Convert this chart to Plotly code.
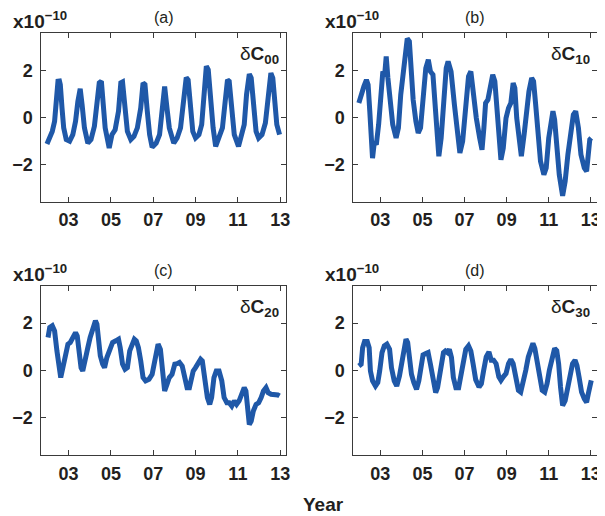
import plotly.graph_objects as go

# The page body adds an 8px margin, so the figure is sized to fit the window
OFF = 8
W, H = 605 - OFF, 516 - OFF

# ---------------- data ----------------
years_a = [2001.98, 2002.11, 2002.23, 2002.34, 2002.42, 2002.5, 2002.57, 2002.61, 2002.69, 2002.77,
           2002.89, 2003.05, 2003.2, 2003.33, 2003.44, 2003.55, 2003.64, 2003.75, 2003.91, 2004.06,
           2004.22, 2004.33, 2004.45, 2004.55, 2004.64, 2004.73, 2004.92, 2005.05, 2005.2, 2005.36,
           2005.47, 2005.55, 2005.67, 2005.78, 2005.94, 2006.09, 2006.25, 2006.41, 2006.52, 2006.61,
           2006.72, 2006.83, 2006.95, 2007.14, 2007.3, 2007.41, 2007.54, 2007.65, 2007.76, 2007.97,
           2008.13, 2008.29, 2008.44, 2008.56, 2008.65, 2008.76, 2008.87, 2009.0, 2009.16, 2009.29,
           2009.4, 2009.51, 2009.6, 2009.71, 2009.83, 2009.95, 2010.11, 2010.27, 2010.4, 2010.51,
           2010.59, 2010.71, 2010.83, 2011.03, 2011.19, 2011.3, 2011.41, 2011.54, 2011.63, 2011.75,
           2011.86, 2011.98, 2012.14, 2012.3, 2012.43, 2012.56, 2012.65, 2012.75, 2012.84, 2012.97]
dC00 = [-1.14, -0.88, -0.6, -0.17, 0.68, 1.54, 1.55, 1.4, 0.4, -0.45,
        -0.95, -1.02, -0.74, -0.17, 0.68, 1.22, 0.54, -0.45, -1.1, -0.95,
        -0.38, 0.4, 1.47, 1.54, 0.54, -0.45, -1.31, -0.74, -0.53, 0.26,
        1.47, 1.51, 0.4, -0.6, -0.95, -0.81, -0.45, 0.4, 1.47, 1.4,
        0.26, -0.74, -1.28, -1.1, -0.74, 0.4, 1.32, 0.4, -0.45, -1.1,
        -0.88, -0.45, 0.75, 1.7, 1.6, 0.26, -0.6, -0.88, -0.74, -0.31,
        0.97, 2.18, 2.03, 0.68, -0.45, -1.24, -0.88, -0.45, 0.68, 1.6,
        1.54, 0.26, -0.74, -1.24, -0.74, -0.31, 0.97, 1.85, 1.68, 0.4,
        -0.6, -0.88, -0.74, -0.24, 0.97, 1.89, 1.68, 0.54, -0.31, -0.74]

years_b = [2001.98, 2002.09, 2002.22, 2002.34, 2002.42, 2002.5, 2002.58, 2002.63, 2002.72, 2002.81,
           2002.92, 2003.03, 2003.12, 2003.2, 2003.28, 2003.36, 2003.47, 2003.59, 2003.75, 2003.86,
           2003.97, 2004.06, 2004.17, 2004.28, 2004.38, 2004.45, 2004.56, 2004.69, 2004.8, 2004.91,
           2005.03, 2005.16, 2005.28, 2005.38, 2005.5, 2005.59, 2005.69, 2005.78, 2005.89, 2006.0,
           2006.13, 2006.22, 2006.36, 2006.52, 2006.67, 2006.78, 2006.91, 2007.06, 2007.19, 2007.3,
           2007.41, 2007.56, 2007.72, 2007.83, 2007.92, 2008.0, 2008.11, 2008.22, 2008.34, 2008.44,
           2008.53, 2008.63, 2008.73, 2008.84, 2008.97, 2009.09, 2009.2, 2009.31, 2009.39, 2009.48,
           2009.59, 2009.7, 2009.83, 2009.94, 2010.06, 2010.19, 2010.28, 2010.38, 2010.5, 2010.61,
           2010.77, 2010.88, 2011.0, 2011.11, 2011.2, 2011.28, 2011.38, 2011.5, 2011.66, 2011.78,
           2011.91, 2012.03, 2012.17, 2012.28, 2012.41, 2012.53, 2012.69, 2012.8, 2012.88, 2012.95,
           2013.02]
dC10 = [0.61, 1.04, 1.32, 1.6, 1.39, 0.26, -0.74, -1.74, -1.02, -1.17,
        -0.31, 0.97, 1.96, 1.75, 2.6, 1.68, 0.54, -0.31, -0.88, -0.45,
        0.97, 1.68, 2.82, 3.36, 3.24, 2.1, 0.75, -0.17, -0.67, -0.45,
        0.68, 2.1, 2.46, 1.96, 1.82, 0.54, -0.74, -1.66, -0.88, 0.68,
        2.1, 2.39, 1.96, 0.54, -0.74, -1.52, -1.02, 0.26, 1.75, 1.96,
        0.97, -0.03, -0.88, -1.38, -0.45, 0.61, 0.75, 1.32, 1.82, 1.54,
        0.26, -0.88, -1.81, -1.31, -0.03, 0.4, 0.61, 1.47, 1.25, -0.03,
        -1.02, -1.66, -0.74, 0.26, 1.11, 1.68, 1.54, 0.54, -0.74, -1.88,
        -2.45, -2.16, -0.88, -0.17, 0.26, -0.1, -1.31, -2.45, -3.35, -2.73,
        -1.59, -0.6, 0.11, 0.26, -0.45, -1.59, -2.16, -2.3, -1.59, -0.95,
        -0.88]

years_c = [2002.03, 2002.11, 2002.23, 2002.34, 2002.45, 2002.55, 2002.63, 2002.73, 2002.86, 2002.97,
           2003.08, 2003.2, 2003.33, 2003.41, 2003.48, 2003.59, 2003.67, 2003.8, 2003.91, 2004.02,
           2004.14, 2004.27, 2004.34, 2004.42, 2004.5, 2004.61, 2004.7, 2004.81, 2004.95, 2005.08,
           2005.23, 2005.36, 2005.44, 2005.55, 2005.67, 2005.78, 2005.89, 2006.02, 2006.11, 2006.2,
           2006.3, 2006.41, 2006.52, 2006.64, 2006.8, 2006.95, 2007.11, 2007.23, 2007.34, 2007.45,
           2007.54, 2007.65, 2007.76, 2007.89, 2008.02, 2008.13, 2008.24, 2008.37, 2008.49, 2008.6,
           2008.71, 2008.81, 2008.89, 2009.0, 2009.13, 2009.24, 2009.32, 2009.43, 2009.56, 2009.67,
           2009.76, 2009.87, 2009.98, 2010.11, 2010.24, 2010.35, 2010.48, 2010.59, 2010.71, 2010.83,
           2010.94, 2011.06, 2011.19, 2011.3, 2011.38, 2011.46, 2011.54, 2011.63, 2011.73, 2011.86,
           2011.98, 2012.1, 2012.21, 2012.33, 2012.43, 2012.57, 2012.73, 2012.89, 2012.97]
dC20 = [1.39, 1.82, 1.89, 1.67, 0.82, -0.03, -0.31, 0.11, 0.68, 1.11,
        1.18, 1.39, 1.6, 1.46, 0.82, 0.11, -0.03, 0.61, 0.96, 1.39,
        1.82, 2.1, 1.96, 1.25, 0.61, 0.26, 0.11, 0.54, 0.96, 1.18,
        1.25, 1.32, 0.96, 0.26, 0.04, 0.11, 0.82, 1.11, 1.32, 1.25,
        0.96, 0.4, -0.31, -0.45, -0.38, -0.17, 0.54, 1.11, 0.89, -0.03,
        -0.88, -0.6, -0.31, -0.17, 0.26, 0.28, 0.33, 0.18, -0.45, -0.74,
        -0.74, -0.31, -0.03, 0.11, 0.33, 0.47, 0.4, -0.31, -1.16, -1.45,
        -1.16, -0.31, -0.03, -0.03, -0.45, -1.16, -1.38, -1.38, -1.52, -1.3,
        -1.45, -1.3, -0.95, -0.74, -0.88, -1.59, -2.3, -2.16, -1.73, -1.45,
        -1.38, -1.16, -0.88, -0.74, -0.95, -1.02, -1.02, -1.05, -1.09]

years_d = [2001.98, 2002.09, 2002.16, 2002.25, 2002.38, 2002.47, 2002.53, 2002.63, 2002.77, 2002.88,
           2002.97, 2003.08, 2003.19, 2003.31, 2003.44, 2003.53, 2003.66, 2003.78, 2003.91, 2004.02,
           2004.13, 2004.22, 2004.3, 2004.38, 2004.48, 2004.59, 2004.72, 2004.83, 2004.94, 2005.03,
           2005.16, 2005.27, 2005.38, 2005.5, 2005.63, 2005.72, 2005.81, 2005.91, 2006.0, 2006.09,
           2006.19, 2006.28, 2006.38, 2006.47, 2006.59, 2006.72, 2006.83, 2006.94, 2007.06, 2007.19,
           2007.3, 2007.41, 2007.53, 2007.69, 2007.8, 2007.91, 2008.03, 2008.16, 2008.27, 2008.38,
           2008.5, 2008.63, 2008.73, 2008.84, 2008.97, 2009.09, 2009.2, 2009.31, 2009.44, 2009.56,
           2009.67, 2009.78, 2009.91, 2010.03, 2010.16, 2010.25, 2010.34, 2010.45, 2010.56, 2010.69,
           2010.81, 2010.92, 2011.03, 2011.16, 2011.28, 2011.38, 2011.47, 2011.56, 2011.66, 2011.78,
           2011.91, 2012.02, 2012.13, 2012.25, 2012.34, 2012.44, 2012.56, 2012.69, 2012.8, 2012.88,
           2012.97, 2013.02]
dC30 = [0.18, 0.26, 0.96, 1.22, 1.22, 0.96, -0.03, -0.45, -0.67, -0.52,
        -0.03, 0.75, 1.04, 1.11, 0.89, 0.11, -0.45, -0.67, -0.24, 0.4,
        0.82, 1.32, 1.18, 0.4, -0.17, -0.52, -0.81, -0.45, 0.26, 0.65,
        0.71, 0.75, 0.26, -0.45, -0.95, -0.74, -0.31, 0.26, 0.75, 0.82,
        0.75, 0.89, 0.54, -0.31, -0.74, -0.74, -0.17, 0.54, 0.89, 1.04,
        0.82, 0.26, -0.4, -0.71, -0.57, 0.0, 0.57, 0.78, 0.43, 0.43,
        0.28, -0.28, -0.43, -0.28, -0.14, 0.28, 0.46, 0.28, -0.28, -0.85,
        -0.93, -0.57, 0.0, 0.57, 1.0, 1.14, 0.93, 0.28, -0.43, -0.85,
        -0.93, -0.57, 0.0, 0.57, 0.93, 0.83, 0.28, -0.71, -1.5, -1.29,
        -0.71, -0.14, 0.28, 0.43, 0.21, -0.28, -0.93, -1.21, -1.36, -1.0,
        -0.5, -0.43]

tick_years = [2003, 2005, 2007, 2009, 2011, 2013]
tick_labels = ["03", "05", "07", "09", "11", "13"]
y_ticks = [-2, 0, 2]
panel_tags = ["(a)", "(b)", "(c)", "(d)"]
coef_subs = ["00", "10", "20", "30"]
x_label = "Year"

# ---------------- styling ----------------
BLUE = "#1f58a8"
TXT = "#231f20"
FONT = "Liberation Sans"

# panel boxes in reference-window pixels: (left, right, top, bottom)
boxes = [(41.7, 288.0, 33.0, 201.7), (355.7, 600.7, 33.0, 201.7),
         (41.7, 288.0, 285.5, 455.0), (355.7, 600.7, 285.5, 455.0)]


def fx(p):
    return (p - OFF) / W


def fy(p):
    return 1 - (p - OFF) / H


series = [(years_a, dC00), (years_b, dC10), (years_c, dC20), (years_d, dC30)]

fig = go.Figure()
layout = dict(width=W, height=H, margin=dict(l=0, r=0, t=0, b=0),
              paper_bgcolor="white", plot_bgcolor="white", showlegend=False)

annotations = []
for i, (xs, ys) in enumerate(series):
    sfx = "" if i == 0 else str(i + 1)
    fig.add_trace(go.Scatter(x=xs, y=ys, mode="lines",
                             line=dict(color=BLUE, width=5),
                             xaxis="x" + sfx, yaxis="y" + sfx))
    l, r, t, b = boxes[i]
    common = dict(showline=True, linecolor="#3a3a3a", linewidth=1, mirror="ticks",
                  ticks="inside", ticklen=5, tickcolor="#3a3a3a", tickwidth=1,
                  showgrid=False, zeroline=False,
                  tickfont=dict(family=FONT, size=18, color=TXT, weight="bold"))
    layout["xaxis" + sfx] = dict(domain=[fx(l), min(fx(r), 1.0)], range=[2001.72, 2013.28],
                                 tickvals=tick_years, ticktext=tick_labels,
                                 anchor="y" + sfx, ticklabelstandoff=2, **common)
    layout["yaxis" + sfx] = dict(domain=[fy(b), fy(t)], range=[-3.6, 3.6],
                                 tickvals=y_ticks, anchor="x" + sfx,
                                 ticklabelstandoff=4, **common)
    cx = (l + r) / 2
    # panel tag
    annotations.append(dict(x=fx(cx), y=fy(t - 15), xref="paper", yref="paper",
                            text=panel_tags[i], showarrow=False,
                            font=dict(family=FONT, size=16, color=TXT),
                            xanchor="center", yanchor="middle"))
    # scale factor
    annotations.append(dict(x=fx(l - 31), y=fy(t - 13), xref="paper", yref="paper",
                            text="x10<sup>\u221210</sup>", showarrow=False,
                            font=dict(family=FONT, size=19, color=TXT, weight="bold"),
                            xanchor="left", yanchor="middle"))
    # coefficient label
    annotations.append(dict(x=fx(r - 5), y=fy(t + 22), xref="paper", yref="paper",
                            text="\u03b4<b>C</b><sub><b>" + coef_subs[i] + "</b></sub>",
                            showarrow=False,
                            font=dict(family=FONT, size=19, color=TXT),
                            xanchor="right", yanchor="middle"))

annotations.append(dict(x=fx(326), y=fy(504), xref="paper", yref="paper",
                        text=x_label, showarrow=False,
                        font=dict(family=FONT, size=19, color=TXT, weight="bold"),
                        xanchor="center", yanchor="middle"))
layout["annotations"] = annotations
fig.update_layout(**layout)
fig.write_html("out.html")
